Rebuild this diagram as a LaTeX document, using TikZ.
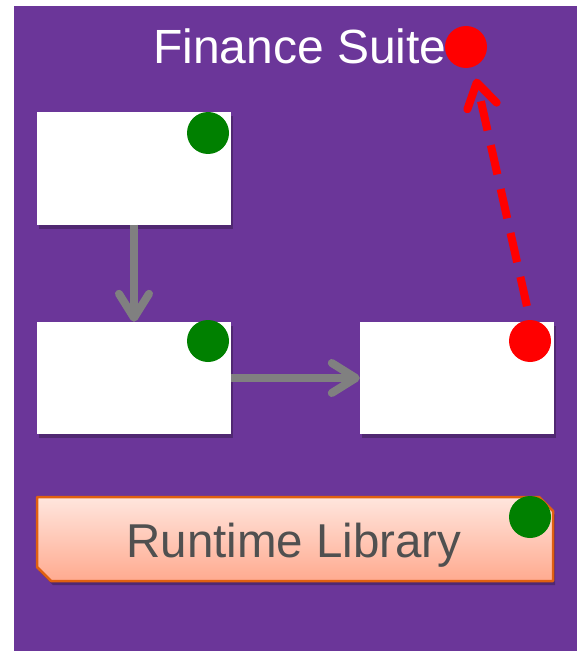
\documentclass[tikz,border=0pt]{standalone}
\usepackage{fontspec}
\setmainfont{Liberation Sans}
\usetikzlibrary{arrows.meta,shadows}
\definecolor{bgpurple}{RGB}{107,54,153}
\definecolor{dotgreen}{RGB}{0,128,0}
\definecolor{dotred}{RGB}{255,0,0}
\definecolor{arrowgray}{RGB}{128,128,128}
\definecolor{rtborder}{RGB}{224,96,16}
\definecolor{rttop}{RGB}{255,230,222}
\definecolor{rtbottom}{RGB}{255,170,143}
\definecolor{rttext}{RGB}{80,80,80}
\begin{document}
\begin{tikzpicture}[x=1pt,y=-1pt,
  boxnode/.style={draw=none,fill=white,minimum width=194pt,minimum height=112pt,inner sep=0pt,
    drop shadow={shadow xshift=2pt,shadow yshift=-4pt,opacity=0.25,fill=black}},
  dotnode/.style={circle,inner sep=0pt,minimum size=42pt},
  greendot/.style={dotnode,fill=dotgreen},
  reddot/.style={dotnode,fill=dotred},
  grayarrow/.style={draw=arrowgray,line width=8pt,-{Straight Barb[length=24pt,width=30pt,round]}},
  redarrow/.style={draw=dotred,line width=8pt,dash pattern=on 30pt off 15pt,-{Straight Barb[length=24pt,width=30pt,round]}}
]
\useasboundingbox (0,0) rectangle (577,652);
\fill[white] (0,0) rectangle (577,652);
\fill[bgpurple] (14,6) rectangle (577,651);

% title
\node[anchor=base,text=white,inner sep=0pt,font=\fontsize{48}{56}\selectfont] (title) at (300,64) {Finance Suite};
\node[reddot] (dotT) at (466,47) {};

% boxes
\node[boxnode] (box1) at (134,168.5) {};
\node[boxnode] (box2) at (134,378) {};
\node[boxnode] (box3) at (457,378) {};
\node[greendot] (dot1) at (208,133) {};
\node[greendot] (dot2) at (208,341) {};
\node[reddot] (dot3) at (530,341) {};

% connectors
\draw[grayarrow] (box1.south) -- (box2.north);
\draw[grayarrow] (box2.east) -- (box3.west);
\draw[redarrow,shorten <=14pt,shorten >=12pt] (dot3.north) -- (dotT.-70);

% runtime library
\path[drop shadow={shadow xshift=2pt,shadow yshift=-4pt,opacity=0.25,fill=black},
  top color=rttop,bottom color=rtbottom,draw=rtborder,line width=2.5pt,line join=round]
  (37,497) -- (539,497) -- (553,511) -- (553,581) -- (51,581) -- (37,567) -- cycle;
\node[anchor=base,text=rttext,inner sep=0pt,font=\fontsize{47.5}{56}\selectfont] (rt) at (294,557) {Runtime Library};
\node[greendot] (dot4) at (530,517) {};
\end{tikzpicture}
\end{document}
